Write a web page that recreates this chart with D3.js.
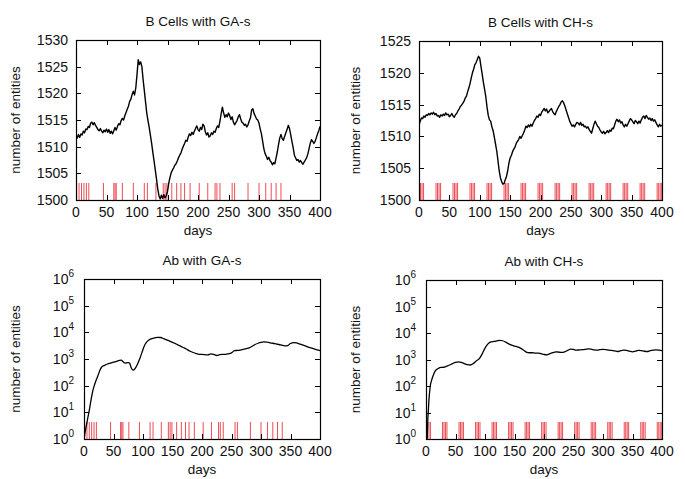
<!DOCTYPE html>
<html><head><meta charset="utf-8">
<script src="https://cdn.jsdelivr.net/npm/d3@7"></script>
<style>
body{margin:0;background:#fff}
text{font-family:"Liberation Sans",Arial,Helvetica,sans-serif;fill:#111}
</style>
</head><body>
<svg id="c" width="685" height="479"></svg>
<script>
// ---------- data ----------
const bDays = d3.range(0, 401, 2); // sampling grid, every 2 days

const bCellsGA = [
1512.2,1511.6,1512.3,1511.7,1512.4,1512.2,1512.9,1512.6,1513.3,1513.2,
1513.8,1513.6,1514.4,1514.6,1514.1,1514.5,1514.0,1513.6,1513.2,1513.0,
1513.4,1512.9,1512.6,1513.1,1512.8,1513.3,1512.7,1513.2,1512.5,1512.9,
1512.4,1513.0,1513.6,1513.1,1513.8,1514.3,1514.1,1514.9,1515.3,1515.0,
1515.8,1516.4,1517.0,1517.6,1518.5,1518.9,1519.8,1520.4,1519.7,1521.0,
1523.5,1526.3,1525.4,1525.9,1525.0,1522.6,1520.5,1518.4,1516.3,1514.9,
1513.6,1512.1,1510.6,1508.9,1507.3,1505.6,1503.9,1502.1,1500.8,1500.2,
1500.9,1500.3,1501.0,1500.4,1500.8,1501.6,1503.1,1504.2,1505.1,1505.6,
1506.0,1506.5,1506.8,1507.3,1507.9,1508.4,1508.8,1509.5,1510.1,1510.6,
1511.2,1511.0,1511.8,1512.4,1512.1,1512.7,1512.3,1512.9,1513.4,1513.9,
1513.2,1512.9,1513.6,1513.2,1514.2,1513.9,1512.8,1512.2,1512.6,1511.8,
1512.0,1512.6,1512.3,1512.9,1512.7,1513.4,1513.9,1513.6,1514.8,1516.2,
1517.4,1516.3,1515.5,1516.0,1515.6,1516.3,1515.8,1515.1,1515.6,1514.6,
1514.1,1514.5,1514.9,1515.6,1516.0,1515.2,1514.6,1514.4,1514.0,1514.2,
1513.7,1514.1,1514.8,1515.4,1516.9,1517.1,1516.2,1515.7,1515.2,1515.0,
1514.4,1513.3,1512.4,1511.0,1509.6,1508.7,1508.2,1507.6,1508.0,1507.4,
1507.1,1506.6,1507.0,1506.8,1507.9,1509.0,1510.4,1511.6,1512.3,1511.5,
1511.2,1511.9,1512.6,1513.2,1514.0,1513.4,1512.2,1511.0,1509.8,1508.4,
1507.9,1507.4,1507.6,1507.1,1507.4,1507.0,1506.7,1507.1,1507.5,1507.9,
1508.6,1509.6,1510.6,1511.3,1511.0,1510.6,1511.0,1511.7,1512.4,1513.0,
1513.8];

const bCellsCH = [
1511.8,1512.4,1512.9,1512.8,1513.2,1513.0,1513.4,1513.3,1513.6,1513.4,
1513.7,1513.5,1513.8,1513.4,1513.6,1513.2,1513.3,1513.0,1513.4,1513.2,
1513.5,1513.3,1513.7,1513.4,1513.5,1513.1,1513.3,1513.6,1513.2,1513.0,
1513.4,1513.6,1514.0,1514.3,1514.7,1514.9,1515.2,1515.5,1516.0,1516.3,
1517.0,1517.6,1518.3,1519.2,1520.0,1520.6,1521.3,1521.6,1522.1,1522.6,
1522.3,1521.0,1519.8,1518.5,1517.4,1516.2,1514.6,1513.3,1512.6,1512.4,
1511.5,1510.9,1509.9,1508.8,1507.7,1506.2,1504.6,1503.5,1502.9,1502.5,
1502.6,1503.2,1503.7,1504.6,1505.8,1506.6,1507.0,1507.6,1508.0,1508.3,
1508.9,1509.2,1509.5,1510.0,1509.7,1510.1,1510.5,1511.0,1511.6,1511.4,
1511.8,1511.5,1511.9,1511.6,1512.1,1512.5,1512.8,1513.2,1513.0,1513.5,
1513.3,1513.8,1514.1,1514.4,1514.0,1514.3,1513.7,1513.9,1514.2,1514.4,
1513.9,1513.6,1513.4,1513.9,1514.3,1514.7,1515.0,1515.4,1515.6,1515.3,
1514.8,1514.2,1513.6,1513.0,1512.4,1512.0,1511.6,1511.8,1511.5,1511.9,
1512.2,1512.1,1511.8,1512.2,1511.7,1511.9,1511.5,1511.6,1511.3,1511.5,
1511.1,1510.8,1510.5,1511.2,1511.9,1512.4,1512.0,1511.6,1511.4,1511.0,
1510.7,1510.5,1510.8,1510.4,1510.6,1510.9,1510.6,1511.0,1510.8,1511.3,
1511.2,1511.8,1512.4,1512.7,1512.3,1512.6,1512.1,1512.3,1511.8,1511.5,
1511.9,1511.6,1512.0,1512.4,1512.8,1512.6,1512.3,1512.0,1512.5,1512.3,
1512.0,1512.4,1512.1,1512.6,1513.0,1513.2,1512.8,1513.3,1513.0,1512.7,
1512.9,1512.5,1512.8,1512.4,1512.6,1512.2,1511.8,1511.5,1511.9,1511.6,
1511.8];

const abGADays = [0,3,6,9,12,15,18,21,24,27,30,35,40,45,50,55,60,63,66,70,74,77,80,83,86,90,94,98,102,106,110,115,120,125,130,135,140,145,150,155,160,165,170,175,180,185,190,195,200,205,210,215,220,225,230,235,240,245,250,255,260,265,270,275,280,285,290,295,300,305,310,315,320,325,330,335,340,345,350,355,360,365,370,375,380,385,390,395,400];
const abGA = [1,2.5,5.5,12,30,65,110,170,250,380,500,580,650,700,760,820,880,900,800,700,730,720,470,380,420,600,950,1700,3000,4300,5200,5800,6200,6500,6400,5800,5200,4700,4200,3800,3300,2900,2600,2250,1950,1750,1600,1500,1480,1450,1420,1550,1480,1350,1450,1500,1480,1560,1700,2050,2100,2150,2300,2450,2600,3000,3500,3900,4200,4350,4300,4050,3900,3700,3500,3300,3100,3200,3800,4100,4000,3700,3400,3100,2800,2600,2400,2200,2050];

const abCHDays = [0,2,3,4,5,7,10,13,16,20,25,30,35,40,45,50,55,60,65,70,75,80,85,90,95,100,105,110,115,120,125,130,135,140,145,150,155,160,165,170,175,180,185,190,195,200,205,210,215,220,225,230,235,240,245,250,255,260,265,270,275,280,285,290,295,300,305,310,315,320,325,330,335,340,345,350,355,360,365,370,375,380,385,390,395,400];
const abCH = [1,1,5,12,30,90,180,280,380,450,500,510,560,620,700,780,820,780,700,640,620,700,880,1050,1600,2700,3900,4600,4800,5000,5300,5100,4500,3900,3500,3200,3000,2700,2300,1900,1800,1800,1750,1750,1650,1550,1500,1650,1800,1950,1900,1850,1950,2200,2450,2400,2250,2300,2350,2400,2500,2450,2300,2250,2350,2400,2350,2250,2200,2100,2000,2150,2250,2200,2050,1950,2050,2200,2150,2050,2000,2150,2250,2300,2250,2150];

const doseGA = [1,5,9,13,17,21,45,62,64,66,76,94,112,117,131,143,146,149,157,165,172,178,187,202,216,228,231,236,256,260,282,300,311,320,328,336];
const doseCH = [0,2.5,5,7.5, 28,30.5,33,35.5, 56,58.5,61,63.5, 84,86.5,89,91.5, 112,114.5,117,119.5, 140,142.5,145,147.5, 168,170.5,173,175.5, 196,198.5,201,203.5, 224,226.5,229,231.5, 252,254.5,257,259.5, 280,282.5,285,287.5, 308,310.5,313,315.5, 336,338.5,341,343.5, 364,366.5,369,371.5, 392,394.5,397,399.5];

const xTicks = [0,50,100,150,200,250,300,350,400];
const yTicksGA = [1500,1505,1510,1515,1520,1525,1530];
const yTicksCH = [1500,1505,1510,1515,1520,1525];
const yTicksAb = [1,10,100,1000,10000,100000,1000000];
const titles = ["B Cells with GA-s","B Cells with CH-s","Ab with GA-s","Ab with CH-s"];
const xLabel = "days";
const yLabel = "number of entities";

// ---------- drawing ----------
const svg = d3.select("#c");
const panels = [
  {title:titles[0], l:76,  r:320, t:40,  b:200, log:false, dom:[1500,1530], yt:yTicksGA, xs:bDays, ys:bCellsGA, dose:doseGA, ylx:19.5},
  {title:titles[1], l:419, r:662, t:41,  b:200, log:false, dom:[1500,1525], yt:yTicksCH, xs:bDays, ys:bCellsCH, dose:doseCH, ylx:359.5},
  {title:titles[2], l:84,  r:320, t:279, b:439, log:true,  dom:[1,1e6],     yt:yTicksAb, xs:abGADays, ys:abGA, dose:doseGA, ylx:19.5},
  {title:titles[3], l:426, r:662, t:280, b:439, log:true,  dom:[1,1e6],     yt:yTicksAb, xs:abCHDays, ys:abCH, dose:doseCH, ylx:359.5}
];

panels.forEach((p, i) => {
  const x = d3.scaleLinear().domain([0,400]).range([p.l, p.r]);
  const y = (p.log ? d3.scaleLog() : d3.scaleLinear()).domain(p.dom).range([p.b, p.t]);
  const g = svg.append("g");
  const cid = "clip" + i;
  svg.append("clipPath").attr("id", cid).append("rect")
    .attr("x", p.l).attr("y", p.t).attr("width", p.r - p.l).attr("height", p.b - p.t);

  // dose markers
  g.append("g").attr("clip-path", `url(#${cid})`).selectAll("line").data(p.dose).join("line")
    .attr("x1", d => x(d)).attr("x2", d => x(d))
    .attr("y1", p.b).attr("y2", p.b - 17)
    .attr("stroke", "#e8202a").attr("stroke-opacity", 0.8).attr("stroke-width", 1);

  // curve
  const pts = p.xs.map((d, k) => [d, p.ys[k]]);
  const line = d3.line().x(d => x(d[0])).y(d => y(d[1]))
    .curve(p.log ? d3.curveMonotoneX : d3.curveLinear);
  g.append("path").attr("clip-path", `url(#${cid})`).datum(pts)
    .attr("d", line).attr("fill", "none").attr("stroke", "#000")
    .attr("stroke-width", p.log ? 1.3 : 1.4).attr("stroke-linejoin", "round");

  // inward ticks on all four sides
  const tl = 5;
  const tk = g.append("g").attr("stroke", "#000").attr("stroke-width", 1);
  xTicks.forEach(v => {
    const xx = Math.round(x(v)) + 0.5;
    tk.append("line").attr("x1", xx).attr("x2", xx).attr("y1", p.b).attr("y2", p.b - tl);
    tk.append("line").attr("x1", xx).attr("x2", xx).attr("y1", p.t).attr("y2", p.t + tl);
  });
  p.yt.forEach(v => {
    const yy = Math.round(y(v)) + 0.5;
    tk.append("line").attr("x1", p.l).attr("x2", p.l + tl).attr("y1", yy).attr("y2", yy);
    tk.append("line").attr("x1", p.r).attr("x2", p.r - tl).attr("y1", yy).attr("y2", yy);
  });

  // frame
  g.append("rect").attr("x", p.l + 0.5).attr("y", p.t + 0.5)
    .attr("width", p.r - p.l).attr("height", p.b - p.t)
    .attr("fill", "none").attr("stroke", "#000").attr("stroke-width", 1.2);

  // x tick labels
  g.append("g").selectAll("text").data(xTicks).join("text")
    .attr("x", d => x(d)).attr("y", p.b + 17)
    .attr("text-anchor", "middle").attr("font-size", 14).text(d => d);

  // y tick labels
  const yl = g.append("g").selectAll("text").data(p.yt).join("text")
    .attr("x", p.log ? p.l - 10 : p.l - 8).attr("y", d => y(d) + 5)
    .attr("text-anchor", "end").attr("font-size", 14);
  if (p.log) {
    yl.each(function(d) {
      const t = d3.select(this);
      t.append("tspan").text("10");
      t.append("tspan").attr("font-size", 10).attr("dy", -7).text(Math.round(Math.log10(d)));
    });
  } else {
    yl.text(d => d);
  }

  // titles and axis labels
  g.append("text").attr("x", (p.l + p.r) / 2).attr("y", p.t - 14)
    .attr("text-anchor", "middle").attr("font-size", 13.5).text(p.title);
  g.append("text").attr("x", (p.l + p.r) / 2).attr("y", p.b + 35)
    .attr("text-anchor", "middle").attr("font-size", 13.5).text(xLabel);
  g.append("text").attr("transform", `translate(${p.ylx},${(p.t + p.b) / 2}) rotate(-90)`)
    .attr("text-anchor", "middle").attr("font-size", 13.5).text(yLabel);
});
</script>
</body></html>
